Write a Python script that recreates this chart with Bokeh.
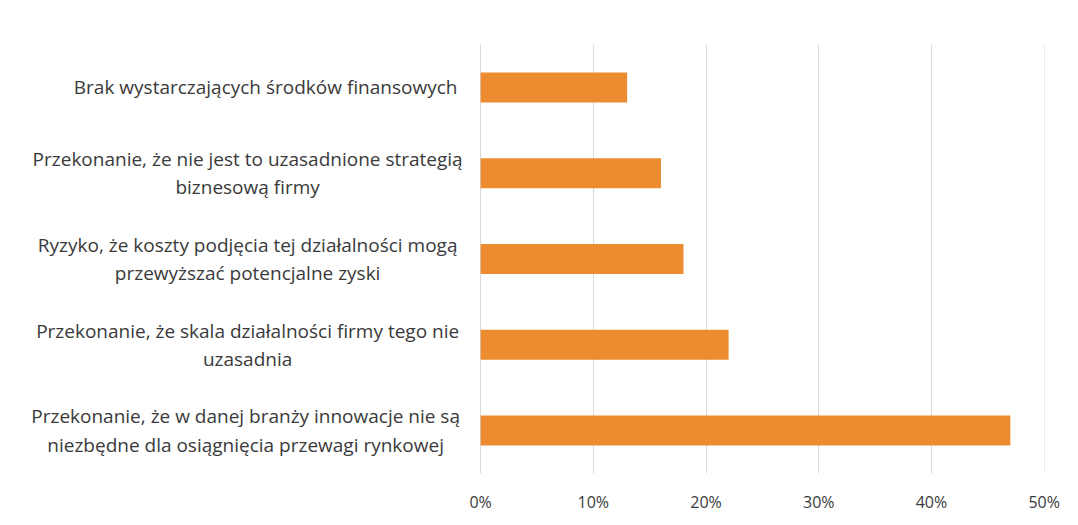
from bokeh.plotting import figure
from bokeh.models import Range1d, FixedTicker, Label
from bokeh.embed import file_html
from bokeh.resources import INLINE

categories = [
    "Brak wystarczających środków finansowych",
    "Przekonanie, że nie jest to uzasadnione strategią\nbiznesową firmy",
    "Ryzyko, że koszty podjęcia tej działalności mogą\nprzewyższać potencjalne zyski",
    "Przekonanie, że skala działalności firmy tego nie\nuzasadnia",
    "Przekonanie, że w danej branży innowacje nie są\nniezbędne dla osiągnięcia przewagi rynkowej",
]
values = [13, 16, 18, 22, 47]
x_ticks = [0, 10, 20, 30, 40, 50]
tick_labels = ["0%", "10%", "20%", "30%", "40%", "50%"]

# horizontal offsets (px, left of the 0% line) of each category label's centre
label_offsets = [-215, -233, -233, -233, -235]

FONT = "Open Sans"
TXT = "#3a3a3a"

n = len(categories)
ypos = [n - i for i in range(n)]  # first category at the top

# the frame is widened to the left so the category labels live inside it
p = figure(
    width=1062, height=515,
    x_range=Range1d(-42.6, 50.03),
    y_range=Range1d(0.5, n + 0.5),
    output_backend="svg", toolbar_location=None,
    min_border_left=0, min_border_right=18,
    min_border_top=44, min_border_bottom=42,
)
p.outline_line_color = None
p.background_fill_color = "white"
p.border_fill_color = "white"

p.hbar(y=ypos, right=values, left=0, height=0.35,
       fill_color="#ED8B30", line_color=None)

p.yaxis.visible = False
p.ygrid.grid_line_color = None
p.xgrid.grid_line_color = "#d9d9d9"
p.xgrid.grid_line_width = 1
p.xgrid.ticker = FixedTicker(ticks=x_ticks)

xa = p.xaxis[0]
xa.ticker = FixedTicker(ticks=x_ticks)
xa.major_label_overrides = {t: l for t, l in zip(x_ticks, tick_labels)}
xa.axis_line_color = None
xa.major_tick_line_color = None
xa.minor_tick_line_color = None
xa.major_label_standoff = 11
xa.major_label_text_font = FONT
xa.major_label_text_font_size = "16px"
xa.major_label_text_color = TXT

for cat, yy, off in zip(categories, ypos, label_offsets):
    p.add_layout(Label(
        x=0, y=yy, x_offset=off,
        text=cat, text_align="center", text_baseline="middle",
        text_font=FONT, text_font_size="19px", text_color=TXT,
        text_line_height=1.1,
    ))

open("out.html", "w").write(file_html(p, INLINE))
